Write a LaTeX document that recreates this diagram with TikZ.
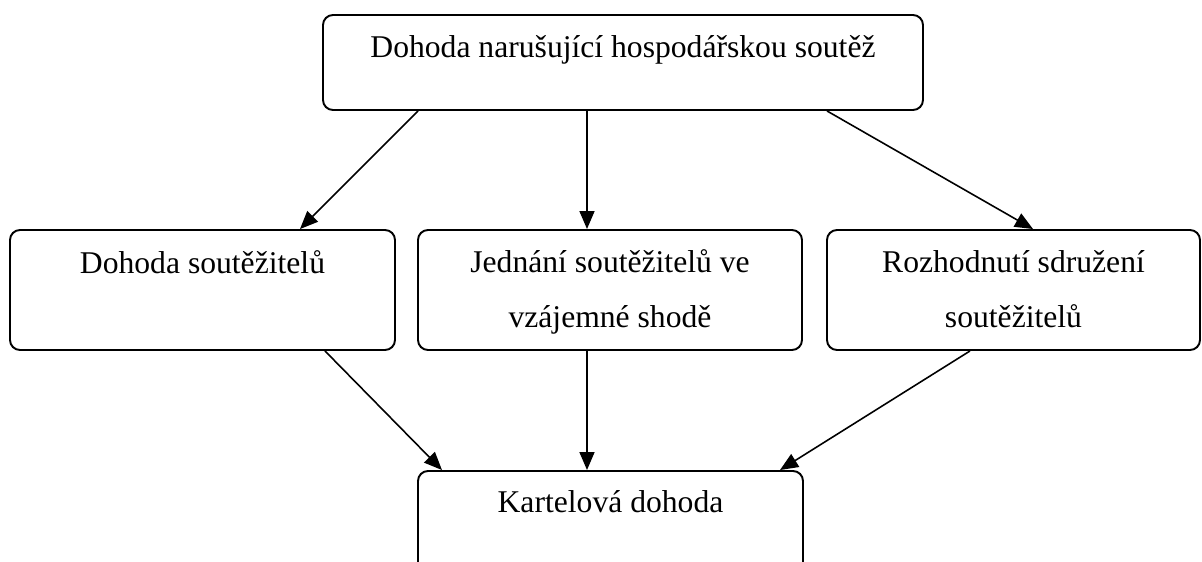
\documentclass[tikz,border=0pt]{standalone}
\usepackage{fontspec}
\setmainfont{Liberation Serif}
\usetikzlibrary{arrows.meta, positioning, calc}

\begin{document}
\begin{tikzpicture}[>={Triangle[length=0.36cm, width=0.3cm]},
    box/.style={draw, line width=1.1pt, rounded corners=0.2cm, inner sep=0pt},
    lbl/.style={anchor=base, align=center, inner sep=0pt,
                font=\fontsize{18}{31.5}\selectfont},
    arr/.style={->, line width=0.9pt}]
  \useasboundingbox (0,0) rectangle (24.04,-11.24);
  \clip (0,0) rectangle (24.04,-11.24);

  % boxes
  \node[box, minimum width=12.0cm, minimum height=1.9cm] (narus) at (12.46,-1.25) {};
  \node[box, minimum width=7.7cm, minimum height=2.4cm] (dohoda) at (4.05,-5.8) {};
  \node[box, minimum width=7.68cm, minimum height=2.4cm] (jednani) at (12.2,-5.8) {};
  \node[box, minimum width=7.46cm, minimum height=2.4cm] (rozhod) at (20.27,-5.8) {};
  \node[box, minimum width=7.7cm, minimum height=2.2cm] (kartel) at (12.21,-10.52) {};

  % texts (base = last line)
  \node[lbl] (narust) at ([yshift=-0.86cm]narus.north) {Dohoda narušující hospodářskou soutěž};
  \node[lbl] (dohodat) at ([yshift=-0.88cm]dohoda.north) {Dohoda soutěžitelů};
  \node[lbl] (jednanit) at ([yshift=-1.97cm]jednani.north) {Jednání soutěžitelů ve\\vzájemné shodě};
  \node[lbl] (rozhodt) at ([yshift=-1.97cm]rozhod.north) {Rozhodnutí sdružení\\soutěžitelů};
  \node[lbl] (kartelt) at ([yshift=-0.84cm]kartel.north) {Kartelová dohoda};

  % arrows
  \draw[arr] ([xshift=-4.1cm]narus.south) -- ([xshift=1.95cm]dohoda.north);
  \draw[arr] ([xshift=-0.72cm]narus.south) -- ([xshift=-0.46cm]jednani.north);
  \draw[arr] ([xshift=4.08cm]narus.south) -- ([xshift=0.39cm]rozhod.north);
  \draw[arr] ([xshift=2.45cm]dohoda.south) -- ([xshift=-3.37cm]kartel.north);
  \draw[arr] ([xshift=-0.46cm]jednani.south) -- ([xshift=-0.47cm]kartel.north);
  \draw[arr] ([xshift=-0.87cm]rozhod.south) -- ([xshift=3.39cm]kartel.north);
\end{tikzpicture}
\end{document}
